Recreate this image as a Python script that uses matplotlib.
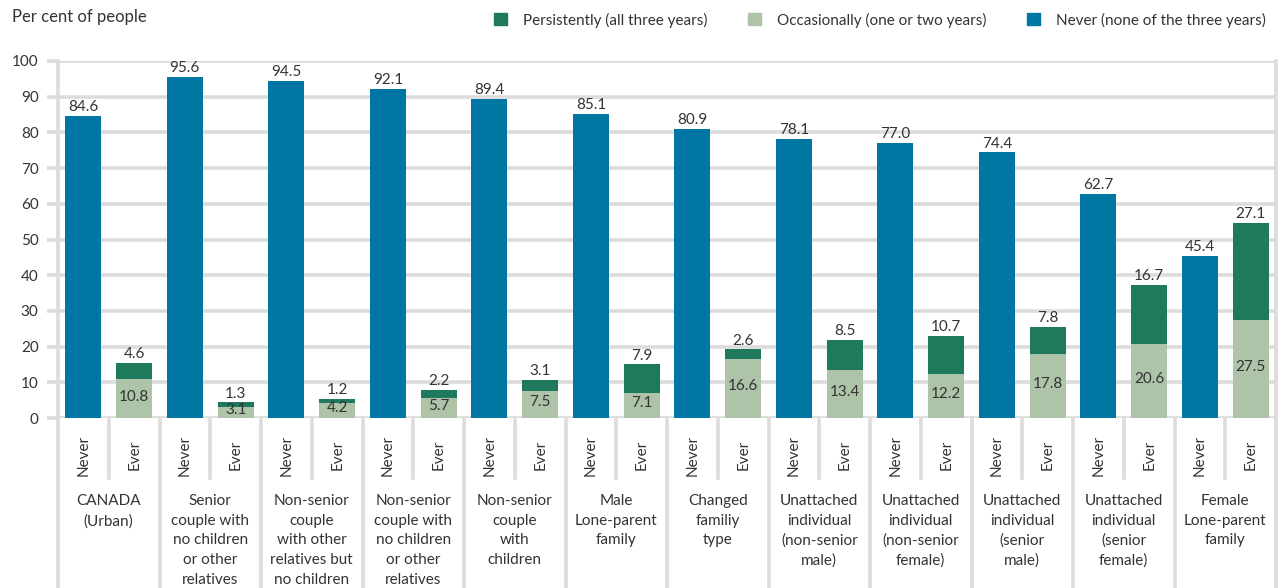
import matplotlib.pyplot as plt
import matplotlib.transforms as mtransforms
from matplotlib.patches import Patch
import numpy as np

plt.rcParams['font.family'] = ['Lato', 'DejaVu Sans']

groups = [
    "CANADA\n(Urban)",
    "Senior\ncouple with\nno children\nor other\nrelatives",
    "Non-senior\ncouple\nwith other\nrelatives but\nno children",
    "Non-senior\ncouple with\nno children\nor other\nrelatives",
    "Non-senior\ncouple\nwith\nchildren",
    "Male\nLone-parent\nfamily",
    "Changed\nfamiliy\ntype",
    "Unattached\nindividual\n(non-senior\nmale)",
    "Unattached\nindividual\n(non-senior\nfemale)",
    "Unattached\nindividual\n(senior\nmale)",
    "Unattached\nindividual\n(senior\nfemale)",
    "Female\nLone-parent\nfamily",
]
never = [84.6, 95.6, 94.5, 92.1, 89.4, 85.1, 80.9, 78.1, 77.0, 74.4, 62.7, 45.4]
occasional = [10.8, 3.1, 4.2, 5.7, 7.5, 7.1, 16.6, 13.4, 12.2, 17.8, 20.6, 27.5]
persistent = [4.6, 1.3, 1.2, 2.2, 3.1, 7.9, 2.6, 8.5, 10.7, 7.8, 16.7, 27.1]
sub_labels = ["Never", "Ever"]

BLUE = "#0077a2"
DARK = "#1f7a5d"
LIGHT = "#adc4a8"
GRID = "#dcdcdc"
TXT = "#333333"
FS = 11

fig = plt.figure(figsize=(12.86, 5.88), dpi=100)
W, H = 1286, 588
ax = fig.add_axes([58 / W, (H - 418) / H, (1276 - 58) / W, (418 - 61) / H])

n = len(groups)
idx = np.arange(n)
xn = idx + 0.25
xe = idx + 0.75
bw = 0.355

ax.bar(xn, never, bw, color=BLUE, zorder=3)
ax.bar(xe, occasional, bw, color=LIGHT, zorder=3)
ax.bar(xe, persistent, bw, bottom=occasional, color=DARK, zorder=3)

for i in range(n):
    ax.text(xn[i], never[i] + 0.5, f"{never[i]:.1f}", ha='center', va='bottom',
            fontsize=FS, color=TXT, zorder=4)
    top = occasional[i] + persistent[i]
    ax.text(xe[i], top + 0.5, f"{persistent[i]:.1f}", ha='center', va='bottom',
            fontsize=FS, color=TXT, zorder=4)
    ax.text(xe[i], occasional[i] / 2 + 0.6, f"{occasional[i]:.1f}", ha='center',
            va='center', fontsize=FS, color=TXT, zorder=4, clip_on=True)

ax.set_xlim(0, n)
ax.set_ylim(0, 100)
ax.set_yticks(range(0, 101, 10))
ax.set_xticks([])
ax.grid(axis='y', color=GRID, linewidth=2.6, zorder=0)
ax.tick_params(axis='y', length=8, width=2.6, color=GRID, labelsize=FS,
               labelcolor=TXT, pad=6)
for s in ['top', 'bottom']:
    ax.spines[s].set_visible(False)
for s in ['left', 'right']:
    ax.spines[s].set_color(GRID)
    ax.spines[s].set_linewidth(2.6)

# category axis below the plot
tr = mtransforms.blended_transform_factory(ax.transData, fig.transFigure)
y0 = (H - 418) / H
for k in range(n + 1):
    ax.plot([k, k], [y0, 0], transform=tr, color=GRID, lw=2.6, clip_on=False, zorder=0)
for k in range(n):
    ax.plot([k + 0.5, k + 0.5], [y0, (H - 478) / H], transform=tr, color=GRID,
            lw=2.6, clip_on=False, zorder=0)
    ax.text(xn[k], (H - 455) / H, sub_labels[0], transform=tr, rotation=90,
            ha='center', va='center', fontsize=FS, color=TXT)
    ax.text(xe[k], (H - 455) / H, sub_labels[1], transform=tr, rotation=90,
            ha='center', va='center', fontsize=FS, color=TXT)
    ax.text(k + 0.5, (H - 494) / H, groups[k], transform=tr, ha='center', va='top',
            fontsize=FS, color=TXT, linespacing=1.52)

fig.text(12 / W, 1 - 17 / H, "Per cent of people", fontsize=12, color=TXT,
         ha='left', va='center')

handles = [Patch(color=DARK), Patch(color=LIGHT), Patch(color=BLUE)]
labels = ["Persistently (all three years)", "Occasionally (one or two years)",
          "Never (none of the three years)"]
fig.legend(handles, labels, loc='center right', bbox_to_anchor=(1280 / W, 1 - 20 / H),
           ncol=3, frameon=False, fontsize=FS, handlelength=0.85, handleheight=0.85,
           handletextpad=1.1, columnspacing=2.6, labelcolor=TXT)

fig.savefig("out.png", dpi=100)
